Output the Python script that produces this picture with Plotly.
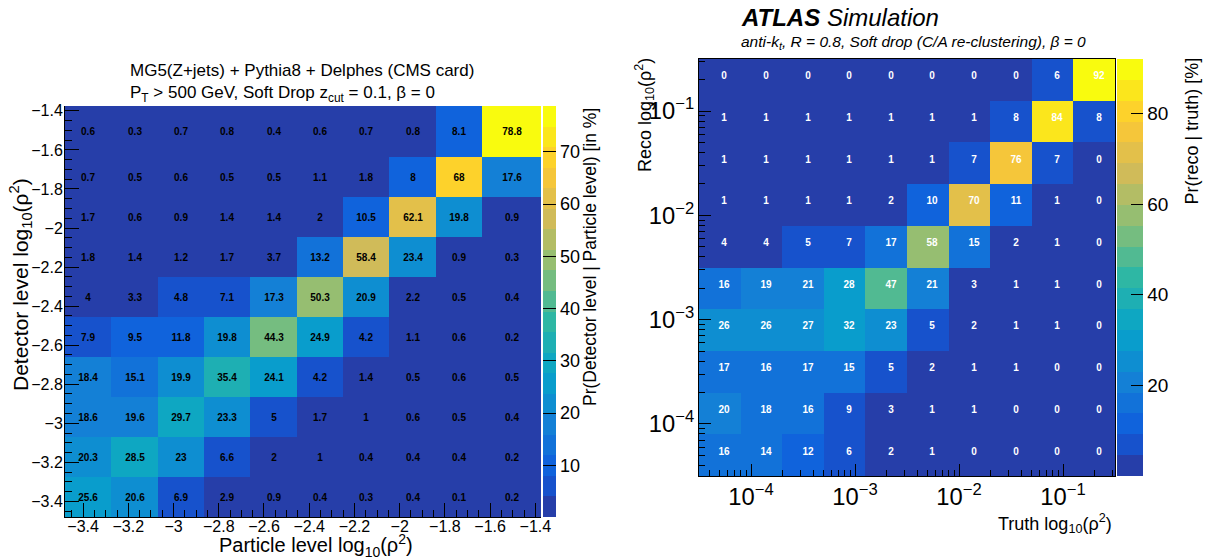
import plotly.graph_objects as go

# ---------------- data ----------------
# Left panel (MG5 + Pythia8 + Delphes), bin edges in log10(rho^2)
left_edges = [-3.48, -3.275, -3.07, -2.865, -2.66, -2.455, -2.25, -2.045, -1.84, -1.635, -1.375]
# rows from bottom (detector level low) to top
left_values = [
    [25.6, 20.6, 6.9, 2.9, 0.9, 0.4, 0.3, 0.4, 0.1, 0.2],
    [20.3, 28.5, 23, 6.6, 2, 1, 0.4, 0.4, 0.4, 0.2],
    [18.6, 19.6, 29.7, 23.3, 5, 1.7, 1, 0.6, 0.5, 0.4],
    [18.4, 15.1, 19.9, 35.4, 24.1, 4.2, 1.4, 0.5, 0.6, 0.5],
    [7.9, 9.5, 11.8, 19.8, 44.3, 24.9, 4.2, 1.1, 0.6, 0.2],
    [4, 3.3, 4.8, 7.1, 17.3, 50.3, 20.9, 2.2, 0.5, 0.4],
    [1.8, 1.4, 1.2, 1.7, 3.7, 13.2, 58.4, 23.4, 0.9, 0.3],
    [1.7, 0.6, 0.9, 1.4, 1.4, 2, 10.5, 62.1, 19.8, 0.9],
    [0.7, 0.5, 0.6, 0.5, 0.5, 1.1, 1.8, 8, 68, 17.6],
    [0.6, 0.3, 0.7, 0.8, 0.4, 0.6, 0.7, 0.8, 8.1, 78.8],
]
left_cbar_ticks = [10, 20, 30, 40, 50, 60, 70]
left_axis_ticks = [-3.4, -3.2, -3.0, -2.8, -2.6, -2.4, -2.2, -2.0, -1.8, -1.6, -1.4]

# Right panel (ATLAS), bin edges in rho^2 (log-spaced)
right_log_edges = [-4.5, -4.1, -3.7, -3.3, -2.9, -2.5, -2.1, -1.7, -1.3, -0.9, -0.5]
right_values = [
    [16, 14, 12, 6, 2, 1, 0, 0, 0, 0],
    [20, 18, 16, 9, 3, 1, 1, 0, 0, 0],
    [17, 16, 17, 15, 5, 2, 1, 1, 0, 0],
    [26, 26, 27, 32, 23, 5, 2, 1, 1, 0],
    [16, 19, 21, 28, 47, 21, 3, 1, 1, 0],
    [4, 4, 5, 7, 17, 58, 15, 2, 1, 0],
    [1, 1, 1, 1, 2, 10, 70, 11, 1, 0],
    [1, 1, 1, 1, 1, 1, 7, 76, 7, 0],
    [1, 1, 1, 1, 1, 1, 1, 8, 84, 8],
    [0, 0, 0, 0, 0, 0, 0, 0, 6, 92],
]
right_cbar_ticks = [20, 40, 60, 80]

# ---------------- palette (ROOT kBird, 20 discrete contours) ----------------
stops = [0.0, 0.125, 0.25, 0.375, 0.5, 0.625, 0.75, 0.875, 1.0]
red = [0.2082, 0.0592, 0.0780, 0.0232, 0.1802, 0.5301, 0.8186, 0.9956, 0.9764]
green = [0.1664, 0.3599, 0.5041, 0.6419, 0.7178, 0.7492, 0.7328, 0.7862, 0.9832]
blue = [0.5293, 0.8684, 0.8385, 0.7914, 0.6425, 0.4662, 0.3499, 0.1968, 0.0539]


def bird(f):
    f = min(max(f, 0.0), 1.0)
    for i in range(len(stops) - 1):
        if f <= stops[i + 1]:
            t = (f - stops[i]) / (stops[i + 1] - stops[i])
            r = red[i] + t * (red[i + 1] - red[i])
            g = green[i] + t * (green[i + 1] - green[i])
            b = blue[i] + t * (blue[i + 1] - blue[i])
            return "rgb(%d,%d,%d)" % (round(r * 255), round(g * 255), round(b * 255))
    return "rgb(249,251,14)"


def discrete_scale(n):
    cs = []
    for k in range(n):
        c = bird((k + 0.99) / n)
        cs.append([k / n, c])
        cs.append([(k + 1) / n, c])
    return cs


NB = 20
cscale = discrete_scale(NB)


def fmt(v):
    return "%g" % v


left_text = [[fmt(v) for v in row] for row in left_values]
right_text = [[fmt(v) for v in row] for row in right_values]
right_edges = [10 ** e for e in right_log_edges]

FONT = "Liberation Sans"
W, H = 1206, 560


def px(x):
    return x / W


def py(y):
    return 1 - y / H


fig = go.Figure()

fig.add_trace(go.Heatmap(
    x=left_edges, y=left_edges, z=left_values,
    text=left_text, texttemplate="%{text}",
    textfont=dict(family=FONT, size=10, color="black", weight="bold"),
    colorscale=cscale, zmin=0.1, zmax=78.8,
    xaxis="x", yaxis="y", hoverinfo="skip",
    colorbar=dict(
        x=px(543), xanchor="left", y=py(517), yanchor="bottom",
        len=(517 - 106) / H, lenmode="fraction",
        thickness=13, thicknessmode="pixels", xpad=0, ypad=0,
        outlinewidth=0, ticks="inside", ticklen=13, tickcolor="black",
        tickvals=left_cbar_ticks, tickfont=dict(family=FONT, size=18, color="black"),
    ),
))

fig.add_trace(go.Heatmap(
    x=right_edges, y=right_edges, z=right_values,
    text=right_text, texttemplate="%{text}",
    textfont=dict(family=FONT, size=10, color="white", weight="bold"),
    colorscale=cscale, zmin=0, zmax=92,
    xaxis="x2", yaxis="y2", hoverinfo="skip",
    colorbar=dict(
        x=px(1117), xanchor="left", y=py(476), yanchor="bottom",
        len=(476 - 59) / H, lenmode="fraction",
        thickness=26, thicknessmode="pixels", xpad=0, ypad=0,
        outlinewidth=0, ticks="inside", ticklen=12, tickcolor="black",
        tickvals=right_cbar_ticks, tickfont=dict(family=FONT, size=19, color="black"),
    ),
))

axis_common = dict(
    ticks="inside", tickcolor="black", showgrid=False, zeroline=False,
    showline=True, linecolor="black", linewidth=1, automargin=False,
)

fig.update_layout(
    width=W, height=H,
    margin=dict(l=0, r=0, t=0, b=0, autoexpand=False),
    paper_bgcolor="white", plot_bgcolor="white",
    showlegend=False,
    font=dict(family=FONT, color="black"),
    xaxis=dict(
        domain=[px(65), px(541)], range=[left_edges[0], left_edges[-1]],
        tickvals=left_axis_ticks, ticklen=14, anchor="y", ticklabelstandoff=-5,
        minor=dict(dtick=0.05, tick0=-3.4, ticks="inside", ticklen=7, tickcolor="black"),
        tickfont=dict(family=FONT, size=16), **axis_common,
    ),
    yaxis=dict(
        domain=[py(517), py(106)], range=[left_edges[0], left_edges[-1]],
        tickvals=left_axis_ticks, ticklen=14, anchor="x", ticklabelstandoff=-2,
        minor=dict(dtick=0.05, tick0=-3.4, ticks="inside", ticklen=7, tickcolor="black"),
        tickfont=dict(family=FONT, size=16), **axis_common,
    ),
    xaxis2=dict(
        type="log", domain=[px(699), px(1115)],
        range=[right_log_edges[0], right_log_edges[-1]],
        dtick=1, exponentformat="power", ticklen=12, anchor="y2",
        minor=dict(dtick="D1", ticks="inside", ticklen=6, tickcolor="black"),
        tickfont=dict(family=FONT, size=19), mirror=True, **axis_common,
    ),
    yaxis2=dict(
        type="log", domain=[py(476), py(59)],
        range=[right_log_edges[0], right_log_edges[-1]],
        dtick=1, exponentformat="power", ticklen=12, anchor="x2",
        minor=dict(dtick="D1", ticks="inside", ticklen=6, tickcolor="black"),
        tickfont=dict(family=FONT, size=19), mirror=True, **axis_common,
    ),
)

ann = [
    dict(text="MG5(Z+jets) + Pythia8 + Delphes (CMS card)", x=px(128), y=py(70),
         xanchor="left", yanchor="middle", font=dict(size=17)),
    dict(text="P<sub>T</sub> > 500 GeV, Soft Drop z<sub>cut</sub> = 0.1, β = 0", x=px(128), y=py(94),
         xanchor="left", yanchor="middle", font=dict(size=17)),
    dict(text="<b><i>ATLAS</i></b> <i>Simulation</i>", x=px(739), y=py(17),
         xanchor="left", yanchor="middle", font=dict(size=24)),
    dict(text="<i>anti-k<sub>t</sub>, R = 0.8, Soft drop (C/A re-clustering), β = 0</i>", x=px(739), y=py(43),
         xanchor="left", yanchor="middle", font=dict(size=15.5)),
    dict(text="Particle level log<sub>10</sub>(ρ<sup>2</sup>)", x=px(316), y=py(545),
         xanchor="center", yanchor="middle", font=dict(size=20)),
    dict(text="Detector level log<sub>10</sub>(ρ<sup>2</sup>)", x=px(20), y=py(285),
         xanchor="center", yanchor="middle", textangle=-90, font=dict(size=21)),
    dict(text="Pr(Detector level | Particle level) [in %]", x=px(590), y=py(106),
         xanchor="center", yanchor="top", textangle=-90, font=dict(size=17.5)),
    dict(text="Truth log<sub>10</sub>(ρ<sup>2</sup>)", x=px(1114), y=py(523),
         xanchor="right", yanchor="middle", font=dict(size=18)),
    dict(text="Reco log<sub>10</sub>(ρ<sup>2</sup>)", x=px(645), y=py(56),
         xanchor="center", yanchor="top", textangle=-90, font=dict(size=18)),
    dict(text="Pr(reco | truth) [%]", x=px(1191), y=py(56),
         xanchor="center", yanchor="top", textangle=-90, font=dict(size=18)),
]
for a in ann:
    a.update(xref="paper", yref="paper", showarrow=False)
fig.update_layout(annotations=ann)

fig.write_html("out.html", config={"displayModeBar": False},
               post_script="document.body.style.margin='0';")
